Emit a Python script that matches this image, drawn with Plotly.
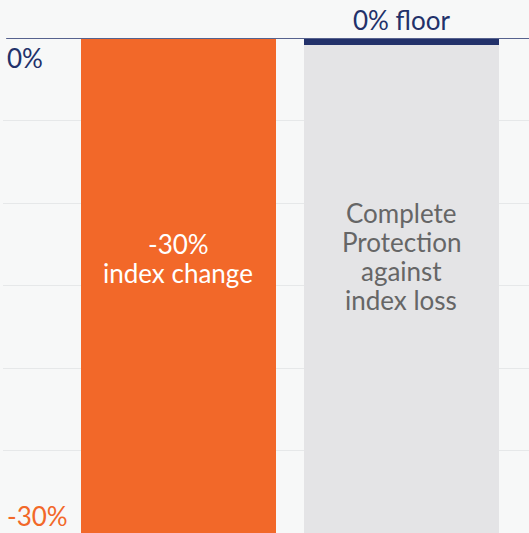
import plotly.graph_objects as go

# data
categories = ["Index", "Floor"]
bar_values = [-30, -30]
bar_lines = [["-30%", "index change"], ["Complete", "Protection", "against", "index loss"]]
floor_value = 0
floor_label = "0% floor"
axis_labels = {0: "0%", -30: "-30%"}

ORANGE = "#f26829"
GREY_BAR = "#e4e4e6"
NAVY = "#22316a"
BG = "#f7f8f8"
FONT = "Lato"
FSIZE = 26

fig = go.Figure()

fig.add_trace(go.Bar(
    x=categories,
    y=bar_values,
    width=0.874,
    marker=dict(color=[ORANGE, GREY_BAR], line=dict(width=0)),
    hoverinfo="skip",
))

# thin navy strip marking the floor on the protected bar
fig.add_trace(go.Bar(
    x=[categories[1]],
    y=[-0.4],
    base=[floor_value],
    width=0.874,
    marker=dict(color=NAVY, line=dict(width=0)),
    hoverinfo="skip",
))

# zero line across the plot
fig.add_shape(type="line", xref="paper", yref="y", x0=0.006, x1=1, y0=floor_value, y1=floor_value,
              line=dict(color="#56628e", width=2), layer="above")

# text inside bars, one annotation per line so the spacing can be tight
for cat, lines, col, ymid in zip(categories, bar_lines, ["white", "#666666"], [-13.36, -13.26]):
    n = len(lines)
    for i, ln in enumerate(lines):
        fig.add_annotation(x=cat, y=ymid, text=ln, showarrow=False,
                           yshift=((n - 1) / 2 - i) * 29,
                           font=dict(family=FONT, size=FSIZE, color=col))

fig.add_annotation(x=categories[1], y=floor_value, text=floor_label, showarrow=False,
                   yanchor="bottom", yshift=0, font=dict(family=FONT, size=FSIZE, color=NAVY))

# axis end labels
fig.add_annotation(xref="paper", x=0.0, xanchor="left", xshift=2, y=0, yanchor="top", yshift=-2,
                   text=axis_labels[0], showarrow=False, font=dict(family=FONT, size=FSIZE, color=NAVY))
fig.add_annotation(xref="paper", x=0.0, xanchor="left", xshift=2, y=-30, yanchor="bottom", yshift=-1,
                   text=axis_labels[-30], showarrow=False, font=dict(family=FONT, size=FSIZE, color=ORANGE))

fig.update_layout(
    width=529, height=533,
    margin=dict(l=3, r=0, t=38, b=0),
    paper_bgcolor=BG, plot_bgcolor=BG,
    barmode="overlay",
    bargap=0,
    showlegend=False,
)
fig.update_xaxes(range=[-0.787, 1.572], visible=False)
fig.update_yaxes(range=[-30, 0], dtick=5, showticklabels=False, showgrid=True,
                 gridcolor="#e6e8e9", gridwidth=1, zeroline=False, showline=False)

fig.write_html("out.html", config={"displayModeBar": False},
               post_script="document.body.style.margin='0';document.body.style.overflow='hidden';")
